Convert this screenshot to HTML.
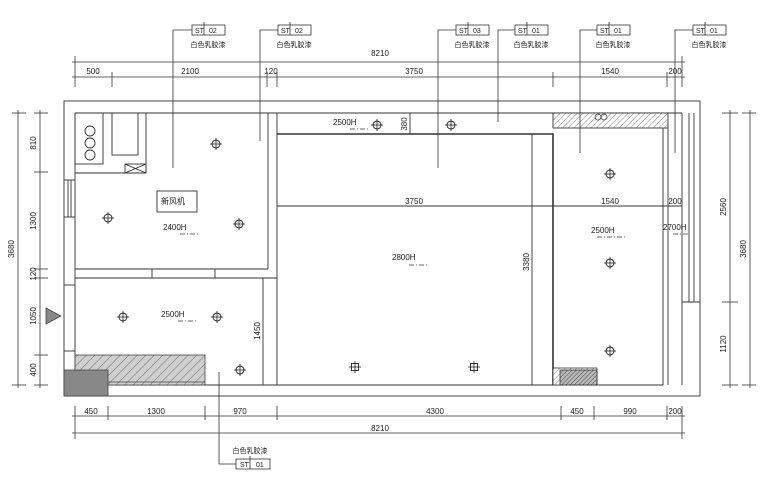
<!DOCTYPE html>
<html><head><meta charset="utf-8"><style>
html,body{margin:0;padding:0;background:#fff;}
svg{display:block}
text{font-family:"Liberation Sans","Noto Sans CJK SC",sans-serif;fill:#222;}
</style></head><body>
<svg width="760" height="479" viewBox="0 0 760 479" xmlns="http://www.w3.org/2000/svg">
<defs>
<pattern id="h1" width="6" height="6" patternUnits="userSpaceOnUse" patternTransform="rotate(45)">
<rect width="6" height="6" fill="#cfcfcf"/><line x1="0" y1="0" x2="0" y2="6" stroke="#555" stroke-width="0.8"/></pattern>
<pattern id="h2" width="3" height="3" patternUnits="userSpaceOnUse" patternTransform="rotate(45)">
<rect width="3" height="3" fill="#bbb"/><line x1="0" y1="0" x2="0" y2="3" stroke="#333" stroke-width="0.9"/></pattern>
<pattern id="h3" width="4" height="4" patternUnits="userSpaceOnUse" patternTransform="rotate(45)">
<rect width="4" height="4" fill="#fff"/><line x1="0" y1="0" x2="0" y2="4" stroke="#555" stroke-width="0.7"/></pattern>
<g id="lt"><circle r="4" fill="none" stroke="#222" stroke-width="0.9"/><line x1="-6" y1="0" x2="6" y2="0" stroke="#222" stroke-width="0.8"/><line x1="0" y1="-6" x2="0" y2="6" stroke="#222" stroke-width="0.8"/></g>
<g id="sq"><rect x="-3.5" y="-3.5" width="7" height="7" fill="none" stroke="#222" stroke-width="0.9"/><line x1="-6" y1="0" x2="6" y2="0" stroke="#222" stroke-width="0.8"/><line x1="0" y1="-6" x2="0" y2="6" stroke="#222" stroke-width="0.8"/></g>
<g id="tk"><line x1="-3" y1="3" x2="3" y2="-3" stroke="#222" stroke-width="0.8"/></g>
</defs>
<g stroke="#333" stroke-width="0.9" fill="none">
<!-- outer walls -->
<rect x="64" y="101" width="636" height="295"/>
<polyline points="75,385 75,113 682,113"/>
<line x1="75" y1="385" x2="663" y2="385"/>
<!-- left window -->
<line x1="68" y1="180" x2="68" y2="217"/><line x1="71" y1="180" x2="71" y2="217"/>
<line x1="64" y1="180" x2="75" y2="180"/><line x1="64" y1="217" x2="75" y2="217"/>
<line x1="64" y1="285" x2="75" y2="285"/><line x1="64" y1="351" x2="75" y2="351"/>
<!-- kitchen -->
<line x1="268" y1="113" x2="268" y2="269"/>
<line x1="277" y1="113" x2="277" y2="385"/>
<line x1="75" y1="269" x2="268" y2="269"/>
<line x1="75" y1="278" x2="277" y2="278"/>
<line x1="152" y1="269" x2="152" y2="278"/><line x1="215" y1="269" x2="215" y2="278"/>
<rect x="75" y="113" width="28" height="51"/>
<circle cx="90" cy="131" r="5"/><circle cx="90" cy="143" r="5"/><circle cx="90" cy="155" r="5"/>
<rect x="112" y="113" width="26" height="42"/>
<polyline points="75,173 146,173 146,113"/>
<rect x="125" y="164" width="21" height="9"/>
<line x1="125" y1="164" x2="146" y2="173"/><line x1="125" y1="173" x2="146" y2="164"/>
<rect x="157" y="191" width="40" height="21"/>
<!-- main room -->
<polyline points="277,134 553,134 553,385" stroke-width="1.6"/>
<line x1="532" y1="134" x2="532" y2="385"/>
<line x1="410" y1="113" x2="410" y2="134"/>
<line x1="277" y1="206" x2="682" y2="206"/>
<!-- right room -->
<rect x="553" y="113" width="115" height="15" fill="url(#h3)"/>
<line x1="663" y1="128" x2="663" y2="385"/><line x1="668" y1="128" x2="668" y2="385"/>
<line x1="682" y1="113" x2="682" y2="385"/>
<line x1="689" y1="113" x2="689" y2="302"/><line x1="694" y1="113" x2="694" y2="302"/>
<line x1="682" y1="302" x2="700" y2="302"/>
<line x1="263" y1="278" x2="263" y2="385"/>
</g>
<rect x="75" y="355" width="130" height="30" fill="url(#h1)" stroke="#444" stroke-width="0.8"/>
<line x1="108" y1="382" x2="205" y2="382" stroke="#444" stroke-width="0.8"/>
<rect x="64" y="370" width="44" height="26" fill="#888" stroke="#444" stroke-width="0.8"/>
<rect x="553" y="368" width="44" height="17" fill="url(#h3)" stroke="#333" stroke-width="0.8"/>
<rect x="560" y="370" width="37" height="15" fill="url(#h2)" stroke="#333" stroke-width="0.8"/>
<polygon points="46,308 61,316 46,324" fill="#888" stroke="#444" stroke-width="0.8"/>
<circle cx="598" cy="117" r="3" fill="none" stroke="#333" stroke-width="0.7"/><circle cx="604" cy="117" r="3" fill="none" stroke="#333" stroke-width="0.7"/>
<!-- lights -->
<use href="#lt" x="216" y="144"/><use href="#lt" x="108" y="218"/><use href="#lt" x="239" y="224"/>
<use href="#lt" x="123" y="317"/><use href="#lt" x="217" y="317"/><use href="#lt" x="240" y="370"/>
<use href="#lt" x="377" y="125"/><use href="#lt" x="451" y="125"/>
<use href="#sq" x="355" y="367"/><use href="#sq" x="474" y="367"/>
<use href="#lt" x="610" y="174"/><use href="#lt" x="610" y="263"/><use href="#lt" x="610" y="351"/>
<!-- elevation marks -->
<g font-size="8">
<text x="333" y="125">2500H</text><text x="163" y="230">2400H</text><text x="161" y="317">2500H</text>
<text x="392" y="260">2800H</text><text x="591" y="233">2500H</text><text x="663" y="230">2700H</text>
</g>
<g stroke="#333" stroke-width="0.8">
<line x1="350" y1="129" x2="368" y2="129" stroke-dasharray="5,2,1,2"/>
<line x1="180" y1="234" x2="198" y2="234" stroke-dasharray="5,2,1,2"/>
<line x1="178" y1="321" x2="196" y2="321" stroke-dasharray="5,2,1,2"/>
<line x1="409" y1="265" x2="427" y2="265" stroke-dasharray="5,2,1,2"/>
<line x1="597" y1="237" x2="626" y2="237" stroke-dasharray="5,2,1,2"/>
<line x1="673" y1="234" x2="690" y2="234" stroke-dasharray="5,2,1,2"/>
</g>
<!-- dimensions -->
<g stroke="#333" stroke-width="0.8">
<line x1="72" y1="62" x2="685" y2="62"/><line x1="72" y1="77" x2="685" y2="77"/>
<line x1="75" y1="56" x2="75" y2="87"/><line x1="682" y1="56" x2="682" y2="87"/>
<line x1="112" y1="72" x2="112" y2="87"/><line x1="267" y1="72" x2="267" y2="87"/><line x1="277" y1="72" x2="277" y2="87"/>
<line x1="553" y1="72" x2="553" y2="87"/><line x1="667" y1="72" x2="667" y2="87"/>
<line x1="72" y1="416" x2="685" y2="416"/><line x1="72" y1="433" x2="685" y2="433"/>
<line x1="75" y1="406" x2="75" y2="439"/><line x1="682" y1="406" x2="682" y2="439"/>
<line x1="108" y1="406" x2="108" y2="420"/><line x1="205" y1="406" x2="205" y2="420"/><line x1="277" y1="406" x2="277" y2="420"/>
<line x1="561" y1="406" x2="561" y2="420"/><line x1="594" y1="406" x2="594" y2="420"/><line x1="667" y1="406" x2="667" y2="420"/>
<line x1="18" y1="110" x2="18" y2="388"/><line x1="40" y1="110" x2="40" y2="388"/>
<line x1="12" y1="113" x2="26" y2="113"/><line x1="12" y1="385" x2="26" y2="385"/>
<line x1="34" y1="113" x2="48" y2="113"/><line x1="34" y1="172" x2="48" y2="172"/><line x1="34" y1="269" x2="48" y2="269"/>
<line x1="34" y1="278" x2="48" y2="278"/><line x1="34" y1="355" x2="48" y2="355"/><line x1="34" y1="385" x2="48" y2="385"/>
<line x1="730" y1="110" x2="730" y2="388"/><line x1="750" y1="110" x2="750" y2="388"/>
<line x1="722" y1="113" x2="738" y2="113"/><line x1="722" y1="302" x2="738" y2="302"/><line x1="722" y1="385" x2="738" y2="385"/>
<line x1="742" y1="113" x2="756" y2="113"/><line x1="742" y1="385" x2="756" y2="385"/>
</g>
<g font-size="8" text-anchor="middle">
<text x="380" y="56">8210</text><text x="93" y="74">500</text><text x="190" y="74">2100</text><text x="271" y="74">120</text>
<text x="414" y="74">3750</text><text x="610" y="74">1540</text><text x="675" y="74">200</text>
<text x="91" y="414">450</text><text x="156" y="414">1300</text><text x="240" y="414">970</text><text x="435" y="414">4300</text>
<text x="577" y="414">450</text><text x="630" y="414">990</text><text x="675" y="414">200</text><text x="380" y="431">8210</text>
<text x="414" y="204">3750</text><text x="610" y="204">1540</text><text x="675" y="204">200</text>
<text transform="translate(14,249) rotate(-90)">3680</text>
<text transform="translate(36,143) rotate(-90)">810</text><text transform="translate(36,221) rotate(-90)">1300</text>
<text transform="translate(36,274) rotate(-90)">120</text><text transform="translate(36,316) rotate(-90)">1050</text>
<text transform="translate(36,370) rotate(-90)">400</text>
<text transform="translate(726,207) rotate(-90)">2560</text><text transform="translate(726,344) rotate(-90)">1120</text>
<text transform="translate(746,249) rotate(-90)">3680</text>
<text transform="translate(407,124) rotate(-90)">380</text><text transform="translate(529,262) rotate(-90)">3380</text>
<text transform="translate(260,331) rotate(-90)">1450</text>
</g>
<text x="161" y="204" font-size="8">新风机</text>
<!-- callouts -->
<g stroke="#333" stroke-width="0.8" fill="none">
<polyline points="173,168 173,30 192,30"/><rect x="192" y="25" width="33" height="10"/><line x1="204" y1="22" x2="204" y2="35"/>
<polyline points="260,141 260,30 278,30"/><rect x="278" y="25" width="33" height="10"/><line x1="290" y1="22" x2="290" y2="35"/>
<polyline points="438,168 438,30 456,30"/><rect x="456" y="25" width="33" height="10"/><line x1="468" y1="22" x2="468" y2="35"/>
<polyline points="498,122 498,30 515,30"/><rect x="515" y="25" width="33" height="10"/><line x1="527" y1="22" x2="527" y2="35"/>
<polyline points="580,153 580,30 597,30"/><rect x="597" y="25" width="33" height="10"/><line x1="609" y1="22" x2="609" y2="35"/>
<polyline points="675,153 675,30 693,30"/><rect x="693" y="25" width="33" height="10"/><line x1="705" y1="22" x2="705" y2="35"/>
<polyline points="219,372 219,464 236,464"/><rect x="236" y="459" width="34" height="10"/><line x1="250" y1="456" x2="250" y2="469"/>
</g>
<g font-size="7">
<text x="195" y="33">ST</text><text x="209" y="33">02</text>
<text x="281" y="33">ST</text><text x="295" y="33">02</text>
<text x="459" y="33">ST</text><text x="473" y="33">03</text>
<text x="518" y="33">ST</text><text x="532" y="33">01</text>
<text x="600" y="33">ST</text><text x="614" y="33">01</text>
<text x="696" y="33">ST</text><text x="710" y="33">01</text>
<text x="240" y="467">ST</text><text x="256" y="467">01</text>
</g>
<g font-size="7" text-anchor="middle">
<text x="208" y="47">白色乳胶漆</text><text x="294" y="47">白色乳胶漆</text><text x="472" y="47">白色乳胶漆</text>
<text x="531" y="47">白色乳胶漆</text><text x="613" y="47">白色乳胶漆</text><text x="709" y="47">白色乳胶漆</text>
<text x="250" y="453">白色乳胶漆</text>
</g>
</svg>
</body></html>
